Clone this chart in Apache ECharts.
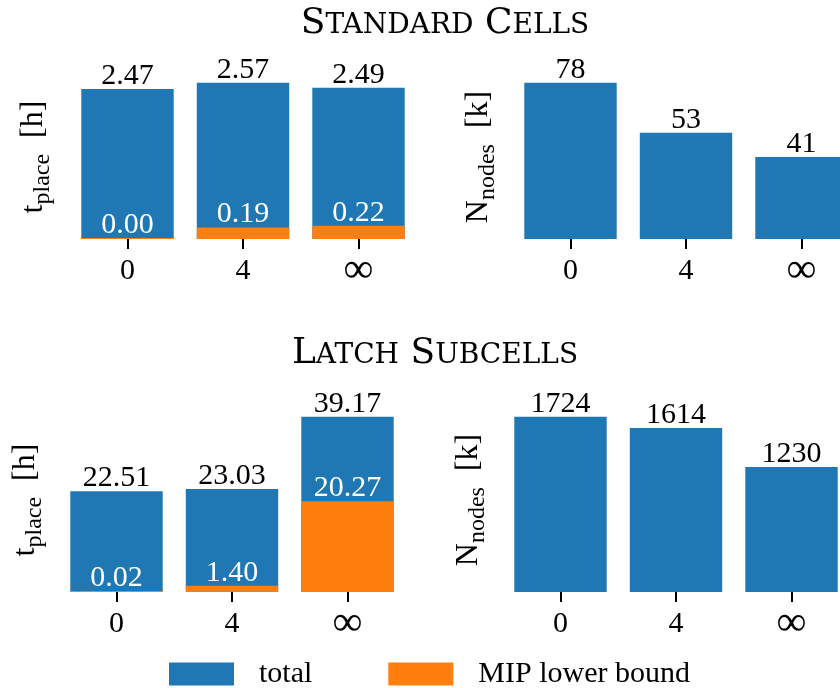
<!DOCTYPE html>
<html>
<head>
<meta charset="utf-8">
<script src="https://cdn.jsdelivr.net/npm/echarts@6/dist/echarts.min.js"></script>
<style>
  html, body { margin: 0; padding: 0; background: #fff; }
  #chart { width: 840px; height: 688px; }
</style>
</head>
<body>
<div id="chart"></div>
<script>
// Placement runtime and branch-and-bound node counts for two cell libraries
const categories = ['0', '4', '\u221E'];

const stdTotal = [2.47, 2.57, 2.49];
const stdMip = [0.00, 0.19, 0.22];
const stdNodes = [78, 53, 41];

const latchTotal = [22.51, 23.03, 39.17];
const latchMip = [0.02, 1.40, 20.27];
const latchNodes = [1724, 1614, 1230];

const BLUE = '#1f77b4';
const ORANGE = '#ff7f0e';
const FONT = 'Liberation Serif';
const TITLE_FONT = 'DejaVu Serif';

const chart = echarts.init(document.getElementById('chart'), null, { renderer: 'canvas' });

// Plot areas; the right-hand panels run past the canvas edge on purpose
const grids = [
  { left: 69.75, top: 75, width: 346.5, height: 164, outerBoundsMode: 'none', containLabel: false },
  { left: 512.75, top: 75, width: 346.5, height: 164, outerBoundsMode: 'none', containLabel: false },
  { left: 58.75, top: 408, width: 346.5, height: 184, outerBoundsMode: 'none', containLabel: false },
  { left: 502.75, top: 408, width: 346.5, height: 184, outerBoundsMode: 'none', containLabel: false }
];

const nameRich = {
  m: { fontSize: 32, fontFamily: FONT, color: '#000' },
  sub: { fontSize: 24, fontFamily: FONT, color: '#000', padding: [18, 0, 0, 0] }
};

function xAxis(i) {
  return {
    type: 'category',
    gridIndex: i,
    data: categories,
    axisLine: { show: false },
    axisTick: { show: true, alignWithLabel: true, length: 10, lineStyle: { color: '#000', width: 2 } },
    axisLabel: {
      interval: 0,
      hideOverlap: false,
      color: '#000', fontSize: 30, fontFamily: FONT, margin: 17,
      formatter: v => (v === '\u221E' ? '{inf|' + v + '}' : v),
      rich: { inf: { fontSize: 42, fontFamily: FONT, color: '#000', lineHeight: 30 } }
    }
  };
}

function yAxis(i, name, gap) {
  return {
    type: 'value',
    gridIndex: i,
    min: 0,
    max: function (v) { return v.max * 1.05; },
    axisLine: { show: false },
    axisTick: { show: false },
    axisLabel: { show: false },
    splitLine: { show: false },
    name: name,
    nameLocation: 'middle',
    nameRotate: 90,
    nameGap: gap,
    nameTextStyle: { rich: nameRich }
  };
}

const timeName = '{m|t}{sub|place}{m|  [h]}';
const nodeName = '{m|N}{sub|nodes}{m|  [k]}';

function totalSeries(i, data, fmt) {
  return {
    name: 'total',
    type: 'bar',
    xAxisIndex: i,
    yAxisIndex: i,
    data: data,
    barWidth: '80%',
    itemStyle: { color: BLUE },
    label: {
      show: true,
      position: 'top',
      distance: -2,
      color: '#000',
      fontSize: 30,
      fontFamily: FONT,
      formatter: fmt
    }
  };
}

function mipSeries(i, data) {
  return {
    name: 'MIP lower bound',
    type: 'bar',
    xAxisIndex: i,
    yAxisIndex: i,
    data: data,
    barWidth: '80%',
    barGap: '-100%',
    barMinHeight: 1,
    itemStyle: { color: ORANGE },
    label: {
      show: true,
      position: 'top',
      distance: -2,
      color: '#fff',
      fontSize: 30,
      fontFamily: FONT,
      formatter: p => p.value.toFixed(2)
    }
  };
}

const fmtHours = p => p.value.toFixed(2);
const fmtNodes = p => String(p.value);

const titleRich = {
  b: { fontSize: 36, fontWeight: 'normal', fontFamily: TITLE_FONT, color: '#000', verticalAlign: 'bottom' },
  s: { fontSize: 28, fontWeight: 'normal', fontFamily: TITLE_FONT, color: '#000', verticalAlign: 'bottom', padding: [0, 0, 2, 0] }
};

chart.setOption({
  animation: false,
  backgroundColor: '#fff',
  title: [
    {
      text: '{b|S}{s|TANDARD}{b| C}{s|ELLS}',
      left: 445, top: 6, textAlign: 'center', padding: 0,
      textStyle: { fontWeight: 'normal', rich: titleRich }
    },
    {
      text: '{b|L}{s|ATCH}{b| S}{s|UBCELLS}',
      left: 435, top: 336, textAlign: 'center', padding: 0,
      textStyle: { fontWeight: 'normal', rich: titleRich }
    }
  ],
  legend: {
    data: ['total', 'MIP lower bound'],
    left: 169,
    top: 659,
    padding: 0,
    itemWidth: 65,
    itemHeight: 23,
    itemGap: 76,
    icon: 'rect',
    textStyle: { color: '#000', fontSize: 30, fontFamily: FONT, padding: [0, 0, 0, 20] }
  },
  grid: grids,
  xAxis: [xAxis(0), xAxis(1), xAxis(2), xAxis(3)],
  yAxis: [
    yAxis(0, timeName, 15),
    yAxis(1, nodeName, 13),
    yAxis(2, timeName, 12),
    yAxis(3, nodeName, 13)
  ],
  series: [
    totalSeries(0, stdTotal, fmtHours),
    mipSeries(0, stdMip),
    totalSeries(1, stdNodes, fmtNodes),
    totalSeries(2, latchTotal, fmtHours),
    mipSeries(2, latchMip),
    totalSeries(3, latchNodes, fmtNodes)
  ]
});
</script>
</body>
</html>
